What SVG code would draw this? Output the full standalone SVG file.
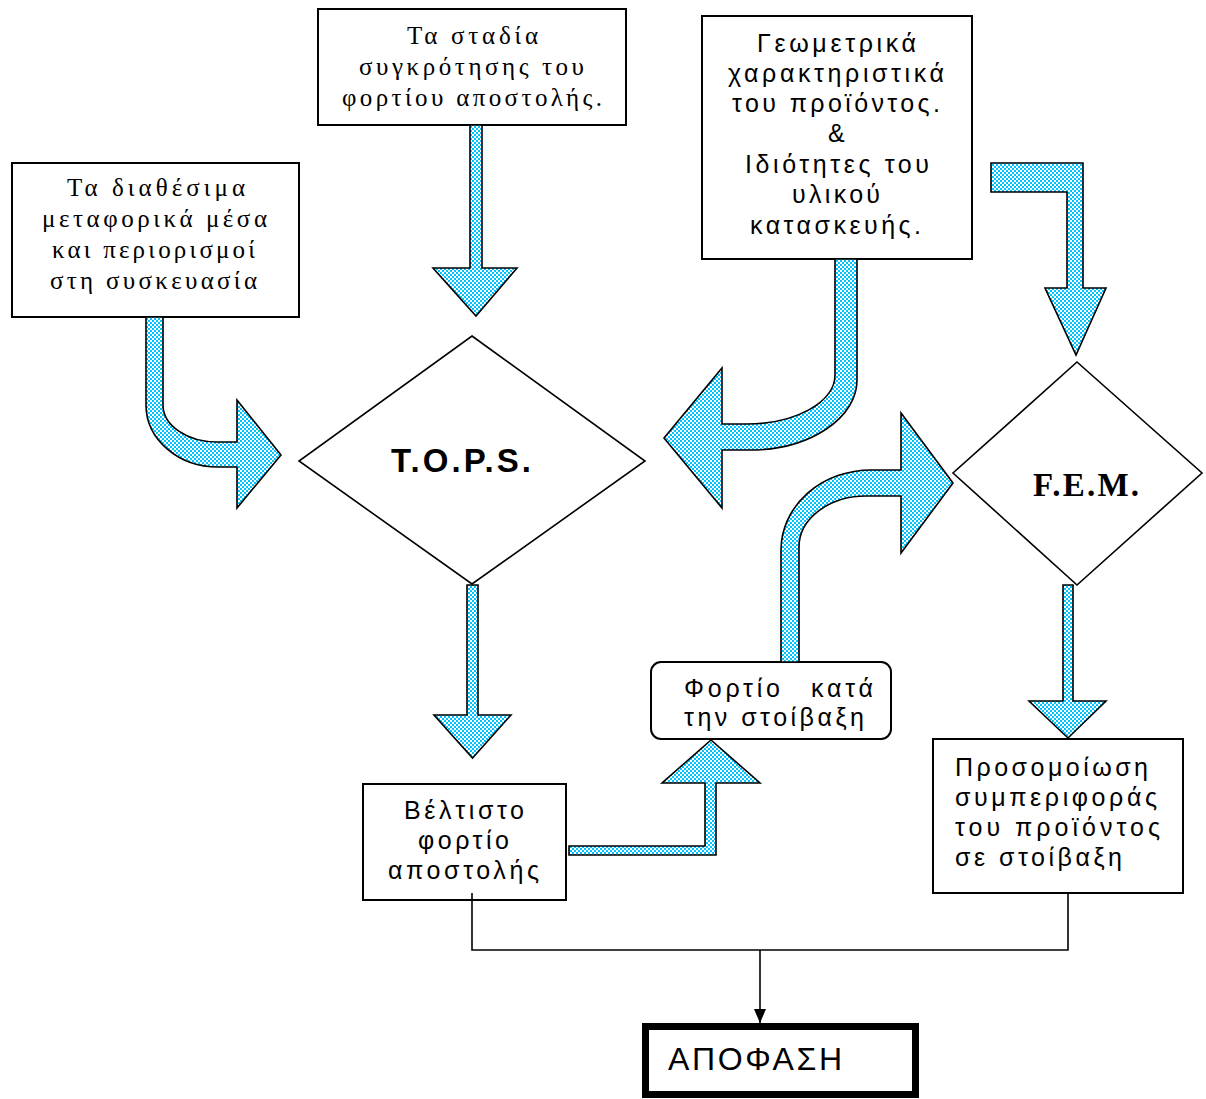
<svg xmlns="http://www.w3.org/2000/svg" width="1206" height="1099" viewBox="0 0 1206 1099">
<defs>
<pattern id="chk" width="4" height="4" patternUnits="userSpaceOnUse">
<rect width="4" height="4" fill="#ffffff"/>
<rect width="2" height="2" fill="#00C4FF"/>
<rect x="2" y="2" width="2" height="2" fill="#00C4FF"/>
</pattern>
<marker id="ah" markerWidth="14" markerHeight="12" refX="14" refY="6" orient="auto" markerUnits="userSpaceOnUse">
<path d="M0,0 L14,6 L0,12 Z" fill="#000"/>
</marker>
<style>
.box{fill:#fff;stroke:#000;stroke-width:2}
.dia{fill:#fff;stroke:#000;stroke-width:1.6}
.blk{fill:url(#chk);stroke:#000;stroke-width:1.6;stroke-linejoin:miter}
.ln{fill:none;stroke:#000;stroke-width:1.6}
.serif{font-family:"Liberation Serif","Times New Roman",serif;font-size:25px;fill:#000}
.sans{font-family:"Liberation Sans",Arial,sans-serif;font-size:25px;fill:#000}
</style>
</defs>
<rect width="1206" height="1099" fill="#fff"/>

<g id="n-means">
<rect class="box" x="12" y="163" width="287" height="154"/>
<text class="serif" x="67" y="196" textLength="178" lengthAdjust="spacing">Τα διαθέσιμα</text>
<text class="serif" x="42" y="227" textLength="225" lengthAdjust="spacing">μεταφορικά μέσα</text>
<text class="serif" x="52" y="258" textLength="203" lengthAdjust="spacing">και περιορισμοί</text>
<text class="serif" x="50" y="289" textLength="207" lengthAdjust="spacing">στη συσκευασία</text>
</g>

<g id="n-stages">
<rect class="box" x="318" y="9" width="308" height="116"/>
<text class="serif" x="407" y="44" textLength="131" lengthAdjust="spacing">Τα σταδία</text>
<text class="serif" x="359" y="75" textLength="225" lengthAdjust="spacing">συγκρότησης του</text>
<text class="serif" x="342" y="106" textLength="260" lengthAdjust="spacing">φορτίου αποστολής.</text>
</g>

<g id="n-geom">
<rect class="box" x="702" y="16" width="270" height="243"/>
<text class="sans" x="757" y="52" textLength="159" lengthAdjust="spacing">Γεωμετρικά</text>
<text class="sans" x="728" y="82" textLength="216" lengthAdjust="spacing">χαρακτηριστικά</text>
<text class="sans" x="732" y="112" textLength="208" lengthAdjust="spacing">του προϊόντος.</text>
<text class="sans" x="828" y="142">&amp;</text>
<text class="sans" x="745" y="173" textLength="184" lengthAdjust="spacing">Ιδιότητες του</text>
<text class="sans" x="792" y="203" textLength="88" lengthAdjust="spacing">υλικού</text>
<text class="sans" x="750" y="234" textLength="171" lengthAdjust="spacing">κατασκευής.</text>
</g>

<g id="n-tops">
<polygon class="dia" points="472,336 645,461 472,584 299,461"/>
<text x="391" y="472" textLength="140" lengthAdjust="spacing" style="font-family:'Liberation Sans',Arial,sans-serif;font-size:33px;font-weight:bold">T.O.P.S.</text>
</g>

<g id="n-fem">
<polygon class="dia" points="1077,362 1202,473 1077,585 953,473"/>
<text x="1033" y="496" textLength="106" lengthAdjust="spacing" style="font-family:'Liberation Serif','Times New Roman',serif;font-size:33px;font-weight:bold">F.E.M.</text>
</g>

<g id="n-optimal">
<rect class="box" x="363" y="784" width="203" height="116"/>
<text class="sans" x="404" y="819" textLength="120" lengthAdjust="spacing">Βέλτιστο</text>
<text class="sans" x="418" y="849" textLength="91" lengthAdjust="spacing">φορτίο</text>
<text class="sans" x="388" y="879" textLength="151" lengthAdjust="spacing">αποστολής</text>
</g>

<g id="n-stacking">
<rect class="box" x="651" y="662" width="240" height="77" rx="10" ry="10"/>
<text class="sans" y="697"><tspan x="684" textLength="96" lengthAdjust="spacing">Φορτίο</tspan><tspan x="811" textLength="62" lengthAdjust="spacing">κατά</tspan></text>
<text class="sans" x="684" y="726" textLength="180" lengthAdjust="spacing">την στοίβαξη</text>
</g>

<g id="n-sim">
<rect class="box" x="933" y="739" width="250" height="154"/>
<text class="sans" x="955" y="776" textLength="193" lengthAdjust="spacing">Προσομοίωση</text>
<text class="sans" x="955" y="806" textLength="202" lengthAdjust="spacing">συμπεριφοράς</text>
<text class="sans" x="955" y="836" textLength="205" lengthAdjust="spacing">του  προϊόντος</text>
<text class="sans" x="955" y="866" textLength="167" lengthAdjust="spacing">σε στοίβαξη</text>
</g>

<g id="n-decision">
<rect x="645.5" y="1026.5" width="270" height="68" fill="#fff" stroke="#000" stroke-width="7"/>
<text x="668" y="1070" textLength="174" lengthAdjust="spacing" style="font-family:'Liberation Sans',Arial,sans-serif;font-size:32px">ΑΠΟΦΑΣΗ</text>
</g>

<g id="connectors">
<path class="blk" d="M146,317 H163 V405 A54,37 0 0 0 217,442 H237 V400 L281,455 L237,508 V467 H218 A72,62 0 0 1 146,405 Z"/>
<path class="blk" d="M470,125 H482 V268 H517 L476,316 L433,268 H470 Z"/>
<path class="blk" d="M835,259 H857 V380 A107,70 0 0 1 750,450 H722 V508 L664,438 L722,368 V424 H747 A88,49 0 0 0 835,375 Z"/>
<path class="blk" d="M991,163 H1083 V288 H1106 L1076,355 L1045,288 H1067 V192 H991 Z"/>
<path class="blk" d="M467,585 H478 V715 H511 L472.5,758 L434,715 H467 Z"/>
<path class="blk" d="M1063,585 H1073 V701 H1106 L1068,738 L1029,701 H1063 Z"/>
<path class="blk" d="M569,846 H705 V783 H662 L711,740 L760,783 H716 V855 H569 Z"/>
<path class="blk" d="M781,662 V550 A90,80 0 0 1 871,470 H901 V413 L953,483 L901,553 V496 H866 A67,51 0 0 0 799,547 V662 Z"/>
<polyline class="ln" points="472,893 472,950 1068,950 1068,893"/>
<line class="ln" x1="760" y1="950" x2="760" y2="1023" marker-end="url(#ah)"/>
</g>
</svg>
